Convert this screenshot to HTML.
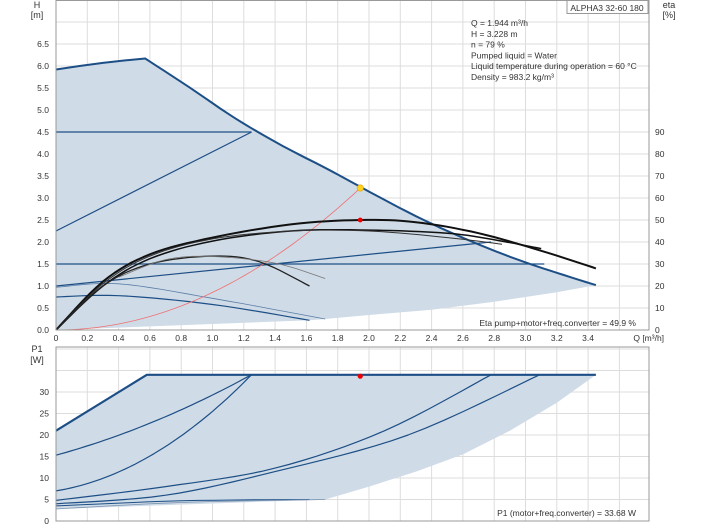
<!DOCTYPE html>
<html><head><meta charset="utf-8"><style>
html,body{margin:0;padding:0;background:#fff;}
svg{display:block;font-family:"Liberation Sans",sans-serif;}
</style></head><body>
<svg id="s" width="704" height="528" xmlns="http://www.w3.org/2000/svg"></svg>
<script>
const S=document.getElementById('s');let h='';
const X0=56,KX=156.5,X1=649;
const qx=q=>X0+q*KX;
const hy=v=>330-v*44;
const py=p=>521-p*4.3;
function pts(a,f){return a.map(p=>qx(p[0]).toFixed(1)+','+f(p[1]).toFixed(1)).join(' ');}
function pl(a,f,c,w){h+=`<polyline points="${pts(a,f)}" fill="none" stroke="${c}" stroke-width="${w}" stroke-linejoin="round"/>`;}
function spline(a,n){
 let r=[];for(let i=0;i<a.length-1;i++){const p0=a[Math.max(0,i-1)],p1=a[i],p2=a[i+1],p3=a[Math.min(a.length-1,i+2)];
 for(let t=0;t<1;t+=1/(n||8)){const t2=t*t,t3=t2*t;r.push([0,1].map(k=>0.5*((2*p1[k])+(-p0[k]+p2[k])*t+(2*p0[k]-5*p1[k]+4*p2[k]-p3[k])*t2+(-p0[k]+3*p1[k]-3*p2[k]+p3[k])*t3)));}}
 r.push(a[a.length-1]);return r;}
function fn(f,a,b){let r=[];for(let i=0;i<=40;i++){const q=a+(b-a)*i/40;r.push([q,f(q)]);}return r;}
const txt=(x,y,s,a,sz)=>h+=`<text x="${x}" y="${y}" font-size="${sz||9}" fill="#333" text-anchor="${a||'start'}">${s}</text>`;
for(let i=0;i<=15;i++){const y=330-i*22;h+=`<line x1="${X0}" x2="${X1}" y1="${y}" y2="${y}" stroke="#ddd"/>`;}
for(let i=0;i<=19;i++){const x=X0+i*0.2*KX;if(x<X1)h+=`<line x1="${x}" x2="${x}" y1="0" y2="330" stroke="#ddd"/>`;}
for(let i=0;i<=8;i++){const y=py(i*5);h+=`<line x1="${X0}" x2="${X1}" y1="${y}" y2="${y}" stroke="#ddd"/>`;}
for(let i=0;i<=19;i++){const x=X0+i*0.2*KX;if(x<X1)h+=`<line x1="${x}" x2="${x}" y1="347" y2="521" stroke="#ddd"/>`;}
let maxc=[[0,5.92],[0.15,6.0],[0.3,6.07],[0.45,6.13],[0.57,6.17]];
const R=[[0.57,6.17],[0.85,5.52],[1.15,4.8],[1.45,4.18],[1.75,3.63],[2.05,3.05],[2.35,2.5],[2.65,2.02],[2.95,1.6],[3.2,1.3],[3.45,1.02]];
maxc=maxc.concat(spline(R,6).slice(1));
const low=[[3.45,1.02],[3.2,0.86],[2.8,0.64],[2.4,0.46],[2.0,0.34],[1.72,0.25],[1.62,0.22],[0,0]];
h+=`<polygon points="${pts(maxc.concat(low),hy)}" fill="#cfdbe7"/>`;
const B='#1d4f86';
pl([[0,4.5],[1.25,4.5]],hy,B,1.2);
pl([[0,2.25],[1.25,4.5]],hy,B,1.2);
pl([[0,1.5],[3.12,1.5]],hy,B,1.2);
pl([[0,1.0],[2.78,2.0]],hy,B,1.2);
pl(spline([[0,0.97],[0.4,1.05],[1.0,0.72],[1.72,0.25]]),hy,'#5a7ea6',0.8);
pl(spline([[0,0.75],[0.4,0.78],[1.0,0.58],[1.62,0.22]]),hy,B,1.2);
pl(maxc,hy,B,2);
let sc=[];for(let q=0;q<=1.944;q+=0.05)sc.push([q,0.854*q*q]);sc.push([1.944,3.228]);
pl(sc,hy,'#f07070',0.8);
pl(spline([[0,0],[0.3,1.1],[0.6,1.72],[1.0,2.1],[1.5,2.4],[1.944,2.5],[2.3,2.45],[2.7,2.2],[3.1,1.8],[3.45,1.4]]),hy,'#111',2);
pl(spline([[0,0],[0.3,1.0],[0.6,1.62],[1.0,2.02],[1.5,2.25],[2.0,2.27],[2.5,2.2],[2.8,2.05],[3.1,1.85]]),hy,'#111',1.5);
pl(spline([[0,0],[0.3,1.05],[0.6,1.68],[1.0,2.07],[1.5,2.25],[2.0,2.25],[2.5,2.1],[2.85,1.95]]),hy,'#333',1);
pl(spline([[0,0],[0.3,1.0],[0.6,1.5],[1.0,1.68],[1.3,1.55],[1.62,1.0]]),hy,'#222',1.3);
pl(spline([[0.4,1.2],[0.7,1.6],[1.0,1.67],[1.4,1.52],[1.72,1.17]]),hy,'#777',0.8);
h+=`<circle cx="${qx(1.944)}" cy="${hy(3.228)}" r="3.2" fill="#ffd21e" stroke="#e8a000" stroke-width="0.6"/>`;
h+=`<circle cx="${qx(1.944)}" cy="${hy(2.5)}" r="2.4" fill="#e00"/>`;
const plow=[[3.45,34],[3.2,27.5],[2.9,21],[2.6,15.5],[2.3,11.5],[2.0,8],[1.72,5]];
h+=`<polygon points="${pts([[0,21],[0.58,34]].concat(plow,[[0,2.8]]),py)}" fill="#cfdbe7"/>`;
pl(fn(q=>15.3+10*q+4*q*q,0,1.25),py,B,1.2);
pl(fn(q=>7+6*q+12.5*q*q,0,1.25),py,B,1.2);
pl(spline([[0,4.8],[0.7,8],[1.4,12.3],[2.1,21],[2.78,34]]),py,B,1.2);
pl(spline([[0,4],[0.7,6],[1.4,11.5],[2.25,20],[3.09,34]]),py,B,1.2);
pl(spline([[0,3.5],[0.8,4.7],[1.62,5]]),py,B,1);
pl(spline([[0,2.8],[0.8,4.3],[1.72,5]]),py,'#7a93b0',0.8);
pl([[0,21],[0.58,34],[3.45,34]],py,B,2.2);
h+=`<circle cx="${qx(1.944)}" cy="${py(33.68)}" r="2.6" fill="#e00"/>`;
h+=`<rect x="${X0}" y="0.5" width="${X1-X0}" height="329.5" fill="none" stroke="#999"/>`;
h+=`<rect x="${X0}" y="347" width="${X1-X0}" height="174" fill="none" stroke="#999"/>`;
for(let i=0;i<=13;i++)txt(49,hy(i*0.5)+3,(i*0.5).toFixed(1),'end',8.5);
for(let i=0;i<=9;i++)txt(655,330-i*22+3,String(i*10),'start',8.5);
for(let i=0;i<=17;i++){const v=i*0.2;txt(qx(v),341,i==0?'0':v.toFixed(1),'middle',8.5);}
txt(qx(3.8)-2,341,'Q [m³/h]','middle',8.5);
for(let i=0;i<=6;i++)txt(49,py(i*5)+3,String(i*5),'end',8.5);
txt(37,8,'H','middle');txt(37,18,'[m]','middle');
txt(669,8,'eta','middle');txt(669,18,'[%]','middle');
txt(37,352,'P1','middle');txt(37,363,'[W]','middle');
h+=`<rect x="567" y="0.5" width="81" height="13" fill="#fff" stroke="#999"/>`;
txt(607,11,'ALPHA3 32-60 180','middle',8.5);
const info=['Q = 1.944 m³/h','H = 3.228 m','n = 79 %','Pumped liquid = Water','Liquid temperature during operation = 60 °C','Density = 983.2 kg/m³'];
info.forEach((s,i)=>txt(471,26+i*10.8,s,'start',8.5));
txt(636,326,'Eta pump+motor+freq.converter = 49.9 %','end',8.5);
txt(636,516,'P1 (motor+freq.converter) = 33.68 W','end',8.5);
S.innerHTML=h;
</script>
</body></html>
